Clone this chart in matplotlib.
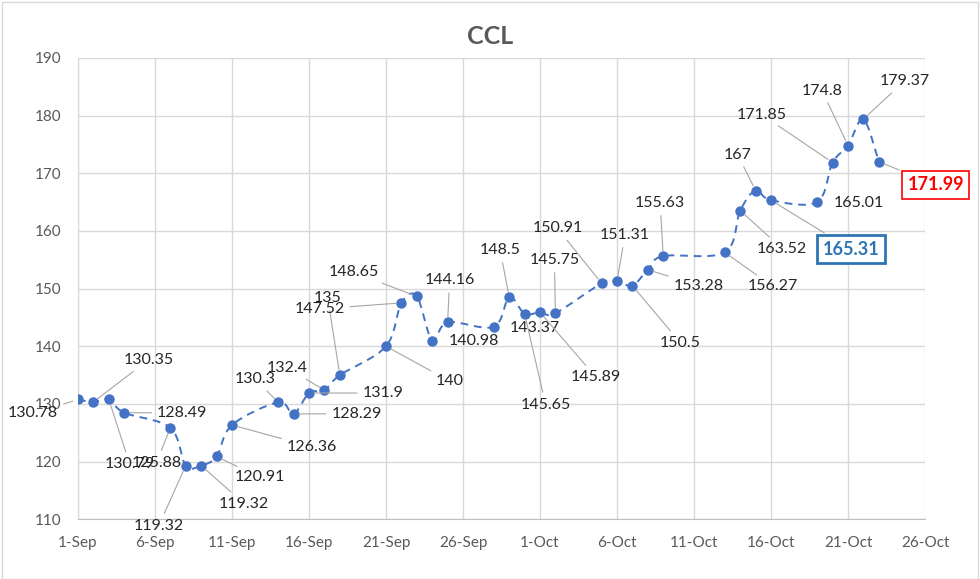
import matplotlib
matplotlib.use("Agg")
import matplotlib.pyplot as plt
import matplotlib.dates as mdates
from matplotlib.path import Path
from matplotlib.patches import PathPatch, Rectangle
import numpy as np
import datetime as dt

plt.rcParams['font.family'] = ['Lato', 'DejaVu Sans']

# ---------------- data ----------------
dates = ['2020-09-01', '2020-09-02', '2020-09-03', '2020-09-04',
         '2020-09-07', '2020-09-08', '2020-09-09', '2020-09-10', '2020-09-11',
         '2020-09-14', '2020-09-15', '2020-09-16', '2020-09-17', '2020-09-18',
         '2020-09-21', '2020-09-22', '2020-09-23', '2020-09-24', '2020-09-25',
         '2020-09-28', '2020-09-29', '2020-09-30', '2020-10-01', '2020-10-02',
         '2020-10-05', '2020-10-06', '2020-10-07', '2020-10-08', '2020-10-09',
         '2020-10-13', '2020-10-14', '2020-10-15', '2020-10-16',
         '2020-10-19', '2020-10-20', '2020-10-21', '2020-10-22', '2020-10-23']
ccl = [130.78, 130.35, 130.79, 128.49,
       125.88, 119.32, 119.32, 120.91, 126.36,
       130.3, 128.29, 131.9, 132.4, 135,
       140, 147.52, 148.65, 140.98, 144.16,
       143.37, 148.5, 145.65, 145.89, 145.75,
       150.91, 151.31, 150.5, 153.28, 155.63,
       156.27, 163.52, 167, 165.31,
       165.01, 171.85, 174.8, 179.37, 171.99]

xtick_dates = ['2020-09-01', '2020-09-06', '2020-09-11', '2020-09-16', '2020-09-21',
               '2020-09-26', '2020-10-01', '2020-10-06', '2020-10-11', '2020-10-16',
               '2020-10-21', '2020-10-26']
xtick_labels = ['1-Sep', '6-Sep', '11-Sep', '16-Sep', '21-Sep', '26-Sep',
                '1-Oct', '6-Oct', '11-Oct', '16-Oct', '21-Oct', '26-Oct']
ytick_values = [110, 120, 130, 140, 150, 160, 170, 180, 190]
title = 'CCL'

# ---------------- layout / style (label offsets in pixels) ----------------
label_offsets = [(-45, -14), (55, 42), (21, -65), (58, 0),
                 (-14, -35), (-27, -60), (43, -38), (43, -21), (80, -22),
                 (-23, 23), (63, 0), (74, 0), (-37, 22), (-12, 77),
                 (64, -35), (-82, -6), (-63, 24), (42, 0), (2, 42),
                 (41, -1), (-9, 47), (21, -91), (56, -65), (-1, 53),
                 (-44, 55), (8, 46), (48, -57), (51, -16), (-3, 53),
                 (48, -34), (42, -38), (-18, 36), (80, -49),
                 (42, -1), (-71, 48), (-26, 55), (41, 38), (57, -23)]
no_leader = {17, 19, 33}
blue_box_idx = 32
red_box_idx = 37

blue = '#4472C4'
grid_c = '#d9d9d9'
text_c = '#595959'

fig = plt.figure(figsize=(9.8, 5.79), dpi=100)
ax = fig.add_axes([78/980, 1 - 519.4/579, (925 - 78)/980, (519.4 - 57.8)/579])

x = mdates.date2num([dt.datetime.strptime(d, '%Y-%m-%d') for d in dates])
y = np.array(ccl, dtype=float)

# smoothed dashed connector (Bezier through the data points, Excel-like smoothing)
pts = np.column_stack([x, y])
verts = [tuple(pts[0])]
codes = [Path.MOVETO]
n = len(pts)
for i in range(n - 1):
    p0 = pts[i - 1] if i > 0 else pts[i]
    p1 = pts[i]
    p2 = pts[i + 1]
    p3 = pts[i + 2] if i + 2 < n else pts[i + 1]
    c1 = p1 + (p2 - p0) / 6.0
    c2 = p2 - (p3 - p1) / 6.0
    verts += [tuple(c1), tuple(c2), tuple(p2)]
    codes += [Path.CURVE4] * 3
ax.add_patch(PathPatch(Path(verts, codes), facecolor='none', edgecolor=blue,
                       lw=1.4, linestyle=(0, (4, 3)), zorder=3))
ax.plot(x, y, linestyle='none', marker='o', markersize=6.5, color=blue,
        markeredgecolor=blue, zorder=4)

# axes formatting
xt = mdates.date2num([dt.datetime.strptime(d, '%Y-%m-%d') for d in xtick_dates])
ax.set_xlim(xt[0], xt[-1])
ax.set_ylim(ytick_values[0], ytick_values[-1])
ax.set_xticks(xt)
ax.set_xticklabels(xtick_labels)
ax.set_yticks(ytick_values)
ax.grid(True, color=grid_c, lw=1.0, zorder=0)
ax.set_axisbelow(True)
for s in ['top', 'right']:
    ax.spines[s].set_visible(False)
ax.spines['left'].set_color(grid_c)
ax.spines['bottom'].set_color('#bfbfbf')
ax.tick_params(axis='both', length=0, labelsize=11, labelcolor=text_c)
ax.tick_params(axis='x', pad=12)
ax.tick_params(axis='y', pad=12)

# data labels
for i, (xi, yi) in enumerate(zip(x, y)):
    txt = f"{yi:g}"
    kw = dict(xy=(xi, yi), xytext=label_offsets[i], textcoords='offset pixels',
              ha='center', va='center', fontsize=11.5, color='#262626', zorder=5)
    if i not in no_leader:
        kw['arrowprops'] = dict(arrowstyle='-', color='#a6a6a6', lw=0.8,
                                shrinkA=2, shrinkB=4)
    if i == blue_box_idx:
        kw.update(color='#2E75B6', fontsize=13, fontweight='bold',
                  bbox=dict(boxstyle='square,pad=0.3', fc='white', ec='#2E75B6', lw=2))
    elif i == red_box_idx:
        kw.update(color='#FF0000', fontsize=13, fontweight='bold',
                  bbox=dict(boxstyle='square,pad=0.3', fc='white', ec='#FF0000', lw=1.2))
    ax.annotate(txt, **kw)

fig.text(0.5, 1 - 37/579, title, ha='center', va='center', fontsize=18,
         fontweight='bold', color=text_c)

fig.patches.append(Rectangle((0.002, 0.0), 0.996, 0.997, transform=fig.transFigure,
                             fill=False, edgecolor=grid_c, lw=1.0))

fig.savefig('out.png', dpi=100)
